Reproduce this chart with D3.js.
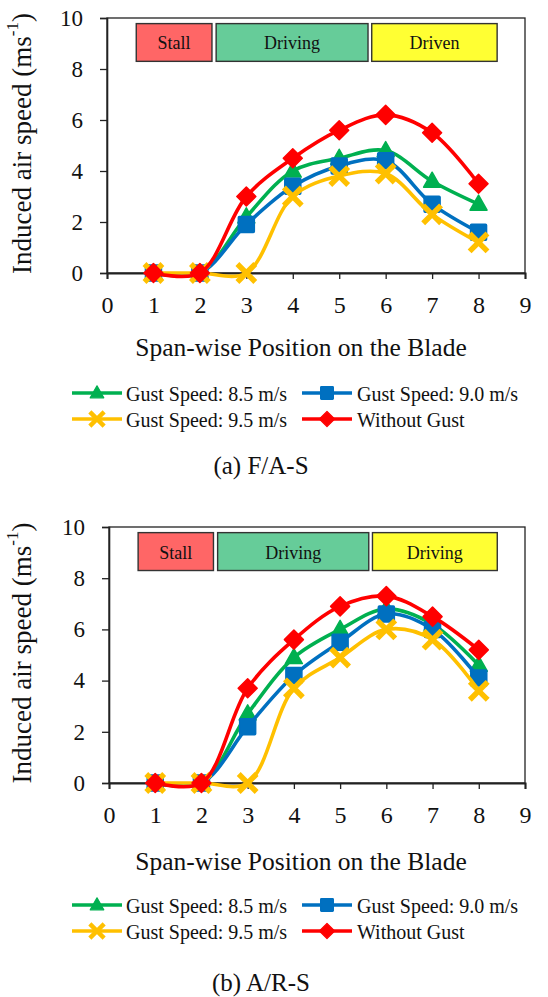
<!DOCTYPE html>
<html>
<head>
<meta charset="utf-8">
<script src="https://cdn.jsdelivr.net/npm/d3@7"></script>
<style>
  html, body { margin: 0; padding: 0; background: #fff; }
  svg { display: block; }
  text { font-family: "Liberation Serif", "Times New Roman", serif; fill: #111; }
</style>
</head>
<body>
<svg id="chart" width="548" height="997"></svg>
<script>
// Span-wise stations along the blade
const xPositions = [1, 2, 3, 4, 5, 6, 7, 8];
const xTicks = [0, 1, 2, 3, 4, 5, 6, 7, 8, 9];
const yTicks = [0, 2, 4, 6, 8, 10];

// (a) F/A-S : induced air speed (m/s)
const fasGust85 = [0, 0, 2.2, 4.0, 4.5, 4.8, 3.6, 2.7];
const fasGust90 = [0, 0, 1.9, 3.4, 4.2, 4.4, 2.7, 1.6];
const fasGust95 = [0, 0, 0,   3.0, 3.8, 3.9, 2.3, 1.2];
const fasNoGust = [0, 0, 3.0, 4.5, 5.6, 6.2, 5.5, 3.5];

// (b) A/R-S : induced air speed (m/s)
const arsGust85 = [0, 0, 2.7, 4.9, 6.0, 6.8, 6.2, 4.6];
const arsGust90 = [0, 0, 2.2, 4.2, 5.5, 6.6, 6.0, 4.1];
const arsGust95 = [0, 0, 0,   3.7, 4.9, 6.0, 5.6, 3.6];
const arsNoGust = [0, 0, 3.7, 5.6, 6.9, 7.3, 6.5, 5.2];

const seriesNames = ["Gust Speed: 8.5 m/s", "Gust Speed: 9.0 m/s", "Gust Speed: 9.5 m/s", "Without Gust"];
const regionLabelsFas = ["Stall", "Driving", "Driven"];
const regionLabelsArs = ["Stall", "Driving", "Driving"];

// Styling
const seriesColors = ["#00B050", "#0070C0", "#FFC000", "#FF0000"];
const seriesMarkers = ["triangle", "square", "cross", "diamond"];
const regionFills = ["#FF6666", "#66CC99", "#FFFF33"];
// region band extents along the span axis and in speed units
const regionSpans = [[0.63, 2.26], [2.35, 5.62], [5.7, 8.4]];
const regionBand = [8.3, 9.78];

const svg = d3.select("#chart");

function markerPath(type) {
  switch (type) {
    case "triangle": return "M0,-9 L8.5,6 L-8.5,6 Z";
    case "square": return "M-7,-8 H7 Q8,-8 8,-7 V7 Q8,8 7,8 H-7 Q-8,8 -8,7 V-7 Q-8,-8 -7,-8 Z";
    case "diamond": return "M0,-9.5 L9.5,0 L0,9.5 L-9.5,0 Z";
    default: return "M-7,-7 L7,7 M7,-7 L-7,7";
  }
}

function drawMarker(g, type, color, x, y) {
  const p = g.append("path").attr("transform", `translate(${x},${y})`).attr("d", markerPath(type));
  if (type === "cross") {
    p.attr("fill", "none").attr("stroke", color).attr("stroke-width", 5.5).attr("stroke-linecap", "square");
  } else {
    p.attr("fill", color).attr("stroke", color).attr("stroke-width", 1.5).attr("stroke-linejoin", "round");
  }
}

function drawPanel(cfg) {
  const x = d3.scaleLinear().domain([0, 9]).range([cfg.left, cfg.right]);
  const y = d3.scaleLinear().domain([0, 10]).range([cfg.bottom, cfg.top]);
  const g = svg.append("g");

  // frame
  g.append("rect")
    .attr("x", cfg.left).attr("y", cfg.top)
    .attr("width", cfg.right - cfg.left).attr("height", cfg.bottom - cfg.top)
    .attr("fill", "none").attr("stroke", "#222").attr("stroke-width", 1.3);

  // axes
  const yAxis = d3.axisLeft(y).tickValues(yTicks).tickSize(7).tickPadding(17);
  const ya = g.append("g").attr("transform", `translate(${cfg.left},0)`).call(yAxis);
  ya.select(".domain").attr("stroke", "#222").attr("stroke-width", 1.6);
  ya.selectAll(".tick line").attr("stroke", "#222").attr("stroke-width", 1.3);
  ya.selectAll(".tick text").attr("font-size", 23).attr("font-family", "Liberation Serif").attr("fill", "#111");

  const xAxis = d3.axisBottom(x).tickValues(xTicks).tickSize(6).tickPadding(17);
  const xa = g.append("g").attr("transform", `translate(0,${cfg.bottom})`).call(xAxis);
  xa.select(".domain").attr("stroke", "#222").attr("stroke-width", 2);
  xa.selectAll(".tick line").attr("stroke", "#222").attr("stroke-width", 1.3);
  xa.selectAll(".tick text").attr("font-size", 24).attr("font-family", "Liberation Serif").attr("fill", "#111");

  // axis titles
  const yt = g.append("text")
    .attr("transform", `translate(22,${(cfg.top + cfg.bottom) / 2 - 2}) rotate(-90)`)
    .attr("text-anchor", "middle").attr("dominant-baseline", "central")
    .attr("font-size", 27);
  yt.append("tspan").text("Induced air speed (ms");
  yt.append("tspan").text("-1").attr("font-size", 17).attr("dy", -10);
  yt.append("tspan").text(")").attr("dy", 10);

  g.append("text")
    .attr("x", 301).attr("y", cfg.titleY)
    .attr("text-anchor", "middle").attr("dominant-baseline", "central")
    .attr("font-size", 25.5).text("Span-wise Position on the Blade");

  // region bands
  cfg.regions.forEach((lab, i) => {
    const [a, b] = regionSpans[i];
    g.append("rect")
      .attr("x", x(a)).attr("y", y(regionBand[1]))
      .attr("width", x(b) - x(a)).attr("height", y(regionBand[0]) - y(regionBand[1]))
      .attr("fill", regionFills[i]).attr("stroke", "#333").attr("stroke-width", 1.4);
    g.append("text")
      .attr("x", (x(a) + x(b)) / 2).attr("y", y((regionBand[0] + regionBand[1]) / 2) + 1)
      .attr("text-anchor", "middle").attr("dominant-baseline", "central")
      .attr("font-size", 18).text(lab);
  });

  // series lines (smoothed) and markers
  const line = d3.line()
    .x((d, i) => x(xPositions[i]))
    .y(d => y(d))
    .curve(d3.curveCatmullRom.alpha(0.5));

  cfg.series.forEach((vals, s) => {
    const sg = g.append("g");
    sg.append("path").attr("d", line(vals))
      .attr("fill", "none").attr("stroke", seriesColors[s]).attr("stroke-width", 3.6);
    vals.forEach((v, i) => drawMarker(sg, seriesMarkers[s], seriesColors[s], x(xPositions[i]), y(v)));
  });

  // legend
  const cols = [{ lx: 72, tx: 126 }, { lx: 302, tx: 357 }];
  seriesNames.forEach((name, s) => {
    const c = cols[s % 2];
    const ly = cfg.legendY + Math.floor(s / 2) * 26;
    const lg = g.append("g");
    lg.append("line").attr("x1", c.lx).attr("x2", c.lx + 50).attr("y1", ly).attr("y2", ly)
      .attr("stroke", seriesColors[s]).attr("stroke-width", 3.6);
    const mg = lg.append("g").attr("transform", `translate(${c.lx + 25},${ly}) scale(0.8)`);
    drawMarker(mg, seriesMarkers[s], seriesColors[s], 0, 0);
    lg.append("text").attr("x", c.tx).attr("y", ly + 1)
      .attr("dominant-baseline", "central").attr("font-size", 20).text(name);
  });

  // caption
  g.append("text")
    .attr("x", 261).attr("y", cfg.captionY)
    .attr("text-anchor", "middle").attr("dominant-baseline", "central")
    .attr("font-size", 25).text(cfg.caption);
}

drawPanel({
  left: 107, right: 525, top: 18, bottom: 273,
  series: [fasGust85, fasGust90, fasGust95, fasNoGust],
  regions: regionLabelsFas,
  titleY: 347, legendY: 393, captionY: 465, caption: "(a) F/A-S"
});

drawPanel({
  left: 109, right: 525, top: 527, bottom: 783,
  series: [arsGust85, arsGust90, arsGust95, arsNoGust],
  regions: regionLabelsArs,
  titleY: 861, legendY: 905, captionY: 982, caption: "(b) A/R-S"
});
</script>
</body>
</html>
